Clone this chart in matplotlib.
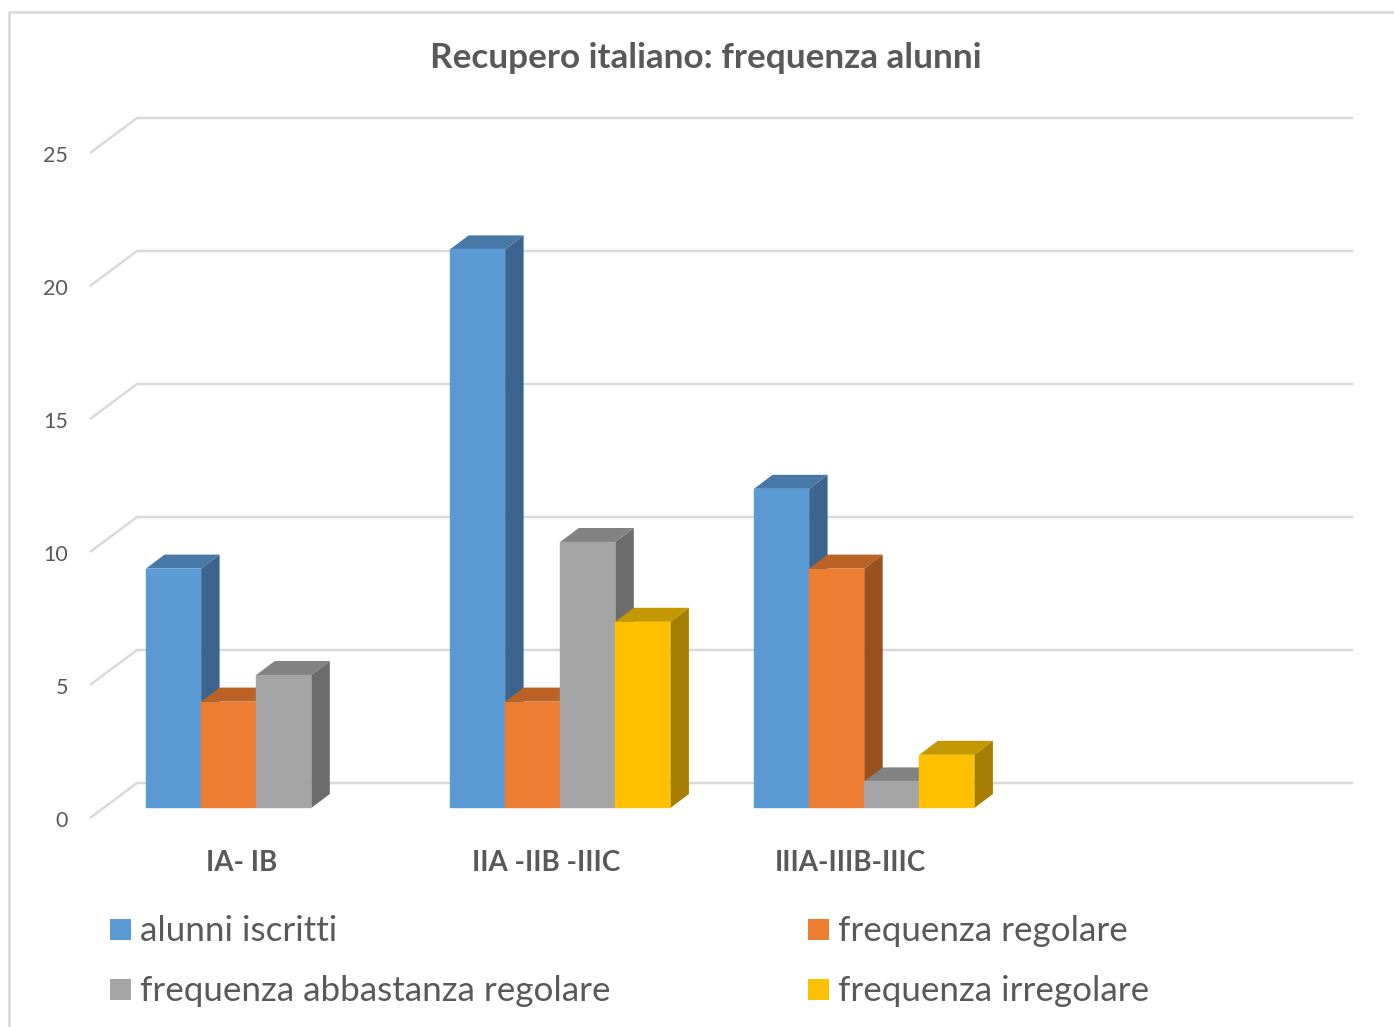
import matplotlib
matplotlib.use("Agg")
import matplotlib.pyplot as plt
from matplotlib.lines import Line2D
from matplotlib.patches import Rectangle

plt.rcParams["font.family"] = ["Lato", "DejaVu Sans"]

categories = ["IA- IB", "IIA -IIB -IIIC", "IIIA-IIIB-IIIC"]
series_names = [
    "alunni iscritti",
    "frequenza regolare",
    "frequenza abbastanza regolare",
    "frequenza irregolare",
]
alunni_iscritti = [9, 21, 12]
frequenza_regolare = [4, 4, 9]
frequenza_abbastanza = [5, 10, 1]
frequenza_irregolare = [0, 7, 2]
y_ticks = [0, 5, 10, 15, 20, 25]

front_colors = ["#5B9BD5", "#ED7D31", "#A5A5A5", "#FFC000"]
top_colors = ["#4779A8", "#BB6226", "#828282", "#C49800"]
side_colors = ["#3B658D", "#9A511F", "#6C6C6C", "#A67D00"]

W, H = 1394, 1027
TEXT = "#595959"
GRID = "#D9D9D9"

# pixel scale of the chart
PX_PER_CAT = 304.0
PX_PER_UNIT = 26.6
X0_PX = 256.2    # centre of first group
Y0_PX = 808.0    # front of the floor

BAR_W = 55.1 / PX_PER_CAT
DX = 18.5 / PX_PER_CAT     # depth offset
DY = 14 / PX_PER_UNIT


def to_x(px):
    return (px - X0_PX) / PX_PER_CAT


def to_y(py):
    return (Y0_PX - py) / PX_PER_UNIT


def draw_walls(ax):
    # lines of the back wall and the left wall
    for v in y_ticks:
        ax.plot([to_x(90), to_x(137), to_x(1353)],
                [v + to_y(818), v + to_y(783), v + to_y(783)],
                color=GRID, lw=1.8, zorder=1, solid_capstyle="butt")
        ax.text(to_x(68), v + to_y(821), str(v), ha="right", va="center",
                fontsize=15.5, color=TEXT)


def draw_bars(ax, values):
    for s, vals in enumerate(values):
        offset = (s - 1.5) * BAR_W
        for i, v in enumerate(vals):
            if v == 0:
                continue
            left = i + offset - BAR_W / 2
            right = left + BAR_W
            z = 2 + i * 10 + s
            ax.fill([right, right + DX, right + DX, right],
                    [0, DY, v + DY, v],
                    color=side_colors[s], lw=0, zorder=z)
            ax.fill([left, left + DX, right + DX, right],
                    [v, v + DY, v + DY, v],
                    color=top_colors[s], lw=0, zorder=z)
            ax.bar(i + offset, v, width=BAR_W, color=front_colors[s],
                   edgecolor=front_colors[s], lw=0.3, zorder=z)


def draw_legend(ax):
    rows = [(110, 929), (808, 929), (110, 989), (808, 989)]
    for s, (x, y) in enumerate(rows):
        ax.add_patch(Rectangle((x / W, 1 - (y + 10.5) / H), 21 / W, 21 / H,
                               transform=ax.transAxes, color=front_colors[s], lw=0))
        ax.text((x + 30) / W, 1 - (y + 2) / H, series_names[s], transform=ax.transAxes,
                ha="left", va="center", fontsize=25.2, color=TEXT)


def main():
    fig = plt.figure(figsize=(W / 100, H / 100), dpi=100)
    ax = fig.add_axes([0, 0, 1, 1])
    ax.set_xlim(to_x(0), to_x(W))
    ax.set_ylim(to_y(H), to_y(0))
    ax.axis("off")

    # chart frame, cut by the image on the right and bottom
    fig.add_artist(Line2D([8.5 / W, 8.5 / W, 1], [0, 1 - 11.5 / H, 1 - 11.5 / H],
                          color=GRID, lw=1.8))

    draw_walls(ax)
    draw_bars(ax, [alunni_iscritti, frequenza_regolare,
                   frequenza_abbastanza, frequenza_irregolare])

    for i, name in enumerate(categories):
        ax.text(to_x(242 + i * PX_PER_CAT), to_y(863), name, ha="center", va="center",
                fontsize=20, fontweight="bold", color=TEXT)

    ax.text(705.5 / W, 1 - 58 / H, "Recupero italiano: frequenza alunni",
            transform=ax.transAxes, ha="center", va="center",
            fontsize=25.3, fontweight="bold", color=TEXT)

    draw_legend(ax)

    fig.savefig("out.png", dpi=100)
    plt.close(fig)


if __name__ == "__main__":
    main()
